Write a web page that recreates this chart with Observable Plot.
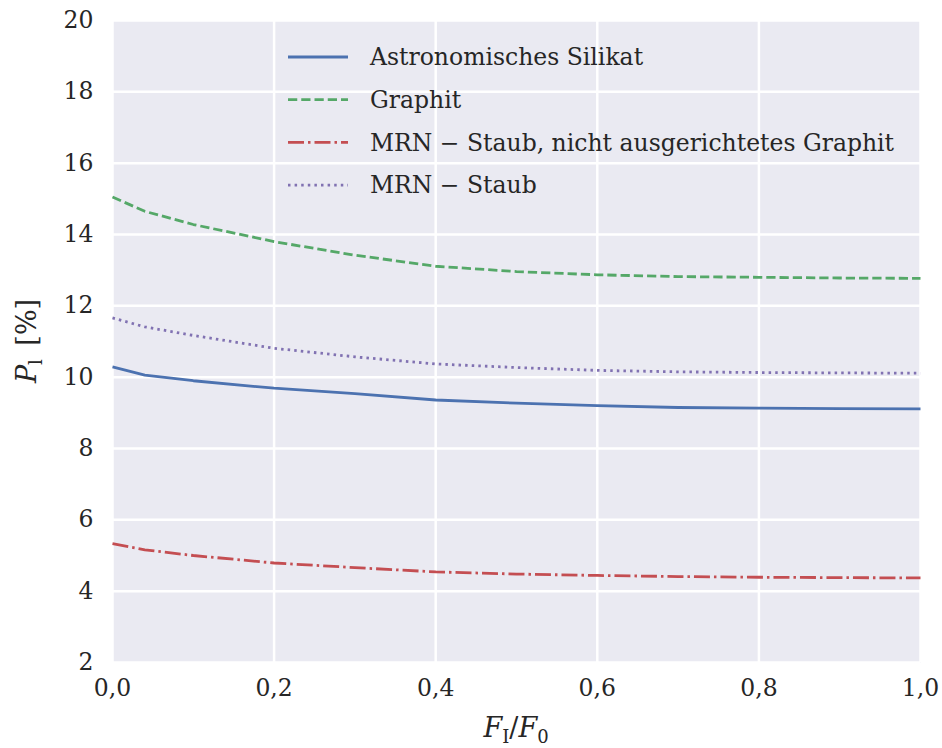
<!DOCTYPE html>
<html>
<head>
<meta charset="utf-8">
<script src="https://cdn.jsdelivr.net/npm/d3@7"></script>
<script src="https://cdn.jsdelivr.net/npm/@observablehq/plot@0.6"></script>
<style>
  html, body { margin: 0; padding: 0; background: #fff; }
  #chart { width: 942px; height: 748px; }
</style>
</head>
<body>
<div id="chart"></div>
<script>
const xValues = [0, 0.04, 0.1, 0.2, 0.3, 0.4, 0.5, 0.6, 0.7, 0.8, 0.9, 1.0];
const silikat = [10.29, 10.06, 9.90, 9.69, 9.54, 9.36, 9.27, 9.20, 9.15, 9.13, 9.12, 9.11];
const graphit = [15.05, 14.65, 14.28, 13.80, 13.42, 13.11, 12.96, 12.87, 12.82, 12.80, 12.78, 12.77];
const mrnNichtAusgerichtet = [5.33, 5.16, 5.00, 4.79, 4.66, 4.54, 4.48, 4.44, 4.41, 4.39, 4.38, 4.37];
const mrn = [11.66, 11.41, 11.17, 10.81, 10.57, 10.37, 10.27, 10.19, 10.15, 10.13, 10.12, 10.11];
const seriesNames = ["Astronomisches Silikat", "Graphit", "MRN \u2212 Staub, nicht ausgerichtetes Graphit", "MRN \u2212 Staub"];
const seriesValues = [silikat, graphit, mrnNichtAusgerichtet, mrn];
const yTicks = [2, 4, 6, 8, 10, 12, 14, 16, 18, 20];
const xTicks = [0, 0.2, 0.4, 0.6, 0.8, 1.0];

const colors = ["#4C72B0", "#55A868", "#C44E52", "#8172B2"];
const dashes = [null, "9.25,4", "16,4,2.5,4", "2.5,4.1"];

const data = seriesNames.map((name, i) => xValues.map((x, j) => ({x, y: seriesValues[i][j], name})));

const W = 942, H = 748;
const mL = 112, mR = 22, mT = 20, mB = 86;
const font = "DejaVu Serif";
const fs = 23.5;

const plot = Plot.plot({
  width: W, height: H,
  marginLeft: mL, marginRight: mR, marginTop: mT, marginBottom: mB,
  style: {fontFamily: font, fontSize: fs + "px", color: "#262626", background: "#fff"},
  x: {domain: [0, 1], label: null},
  y: {domain: [2, 20], label: null},
  marks: [
    Plot.frame({fill: "#EAEAF2", stroke: null}),
    Plot.gridX(xTicks, {stroke: "#fff", strokeOpacity: 1, strokeWidth: 2.5}),
    Plot.gridY(yTicks, {stroke: "#fff", strokeOpacity: 1, strokeWidth: 2.5}),
    ...data.map((d, i) => Plot.line(d, {x: "x", y: "y", stroke: colors[i], strokeWidth: 2.8, strokeDasharray: dashes[i], strokeLinecap: "butt", strokeLinejoin: "round"})),
    Plot.axisX(xTicks, {tickSize: 0, tickPadding: 17, fontSize: fs, tickFormat: d => d.toFixed(1).replace(".", ","), label: null}),
    Plot.axisY(yTicks, {tickSize: 0, tickPadding: 19, fontSize: fs, tickFormat: d => String(d), label: null})
  ]
});

document.getElementById("chart").appendChild(plot);

const svg = d3.select(plot);

// Legend
const legX1 = 288, legX2 = 348, legTextX = 370, legY0 = 57, legDy = 42.7;
const leg = svg.append("g").attr("font-family", font).attr("font-size", fs).attr("fill", "#262626").attr("text-anchor", "start");
seriesNames.forEach((name, i) => {
  const y = legY0 + i * legDy;
  leg.append("line").attr("x1", legX1).attr("x2", legX2).attr("y1", y).attr("y2", y)
    .attr("stroke", colors[i]).attr("stroke-width", 2.8).attr("stroke-dasharray", dashes[i]);
  leg.append("text").attr("x", legTextX).attr("y", y).attr("dy", "0.35em").text(name);
});

// X label
const xl = svg.append("text").attr("x", mL + (W - mL - mR) / 2).attr("y", 737)
  .attr("text-anchor", "middle").attr("font-family", font).attr("font-size", 27).attr("fill", "#262626");
xl.append("tspan").attr("font-style", "italic").text("F");
xl.append("tspan").attr("font-size", 18).attr("dy", 6).text("I");
xl.append("tspan").attr("dy", -6).text("/");
xl.append("tspan").attr("font-style", "italic").text("F");
xl.append("tspan").attr("font-size", 18).attr("dy", 6).text("0");

// Y label
const yl = svg.append("text").attr("transform", `translate(36,${mT + (H - mT - mB) / 2}) rotate(-90)`)
  .attr("text-anchor", "middle").attr("font-family", font).attr("font-size", 27).attr("fill", "#262626");
yl.append("tspan").attr("font-style", "italic").text("P");
yl.append("tspan").attr("font-size", 18).attr("dy", 6).text("l");
yl.append("tspan").attr("dy", -6).text("\u2002[%]");
</script>
</body>
</html>
